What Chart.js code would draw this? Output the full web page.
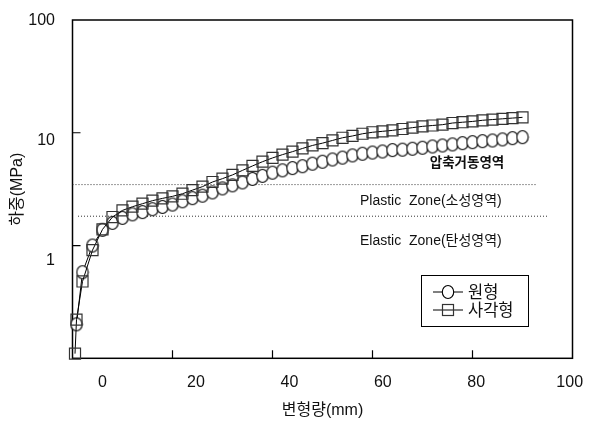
<!DOCTYPE html>
<html><head><meta charset="utf-8">
<script src="https://cdn.jsdelivr.net/npm/chart.js@4.4.0/dist/chart.umd.min.js"></script>
<style>html,body{margin:0;padding:0;background:#fff;}</style>
</head><body>
<canvas id="c" width="590" height="431"></canvas>
<script>
// ---- data ----
const circleLabel = '원형';
const squareLabel = '사각형';
const circleX = [0.8,2,4,6,8,10,12,14,16,18,20,22,24,26,28,30,32,34,36,38,40,42,44,46,48,50,52,54,56,58,60,62,64,66,68,70,72,74,76,78,80,82,84,86,88,90];
const circleY = [0.20,0.58,1.0,1.38,1.59,1.76,1.89,1.98,2.10,2.20,2.31,2.47,2.63,2.77,2.96,3.21,3.42,3.63,3.90,4.15,4.43,4.64,4.86,5.05,5.32,5.54,5.80,6.02,6.30,6.52,6.68,6.83,7.02,7.08,7.22,7.37,7.56,7.72,7.88,8.09,8.26,8.43,8.55,8.73,8.96,9.14];
const squareX = [0.5,0.8,2,4,6,8,10,12,14,16,18,20,22,24,26,28,30,32,34,36,38,40,42,44,46,48,50,52,54,56,58,60,62,64,66,68,70,72,74,76,78,80,82,84,86,88,90];
const squareY = [0.11,0.22,0.48,0.91,1.39,1.79,2.05,2.21,2.35,2.50,2.62,2.73,2.88,3.10,3.33,3.66,3.92,4.23,4.64,5.08,5.54,5.98,6.40,6.80,7.26,7.72,8.09,8.55,9.03,9.37,9.80,10.1,10.3,10.5,10.8,11.1,11.4,11.6,11.8,12.2,12.4,12.6,12.9,13.1,13.3,13.5,13.7];
// zone boundary lines
const upperLineX = [0, 92.8];
const upperLineY = [3.47, 3.47];
const lowerLineX = [1.1, 95];
const lowerLineY = [1.82, 1.82];
// tick labels / marks
const xTickLabels = [0,20,40,60,80,100];
const yTickLabels = [1,10,100];
const xTickMarks = [20,40,60,80];
const yTickMarks = [1,10];
// annotations: [text, x, y, align, bold]
const zoneTexts = [
  ['압축거동영역', 78.9, 5.35, 'center', true],
  ['Plastic  Zone(소성영역)', 57.5, 2.47, 'left', false],
  ['Elastic  Zone(탄성영역)', 57.5, 1.09, 'left', false]
];

const FONT = "'Liberation Sans', 'Noto Sans CJK KR', sans-serif";
Chart.defaults.font.family = FONT;
Chart.defaults.color = '#111';

// ellipse marker
function makeEllipse(){
  const c = document.createElement('canvas');
  c.width = 14; c.height = 16;
  const g = c.getContext('2d');
  g.beginPath();
  g.ellipse(7, 8, 5.7, 6.5, 0, 0, Math.PI*2);
  g.fillStyle = '#fff'; g.fill();
  g.lineWidth = 1.1; g.strokeStyle = '#000'; g.stroke();
  return c;
}
const ellipseImg = makeEllipse();

const zip = (xs, ys) => xs.map((x,i)=>({x, y: ys[i]}));

const decor = {
  id: 'decor',
  beforeDatasetsDraw(chart){
    const {ctx, chartArea:a, scales:{x, y}} = chart;
    ctx.save();
    ctx.strokeStyle = '#000';
    ctx.lineWidth = 1.5;
    ctx.strokeRect(a.left, a.top, a.right - a.left, a.bottom - a.top);
    ctx.lineWidth = 1.2;
    ctx.beginPath();
    xTickMarks.forEach(v => { const p = x.getPixelForValue(v); ctx.moveTo(p, a.bottom); ctx.lineTo(p, a.bottom - 8); });
    yTickMarks.forEach(v => { const p = y.getPixelForValue(v); ctx.moveTo(a.left, p); ctx.lineTo(a.left + 8, p); });
    ctx.stroke();
    ctx.restore();
  },
  afterDatasetsDraw(chart){
    const {ctx, scales:{x, y}} = chart;
    ctx.save();
    ctx.fillStyle = '#111';
    ctx.textBaseline = 'middle';
    zoneTexts.forEach(([t, vx, vy, al, b]) => {
      ctx.font = (b ? 'bold 13.5px ' : '14px ') + FONT;
      ctx.textAlign = al;
      ctx.fillText(t, x.getPixelForValue(vx), y.getPixelForValue(vy));
    });
    // legend
    const L = {x: 421, y: 275, w: 107, h: 51};
    ctx.strokeStyle = '#000'; ctx.lineWidth = 1;
    ctx.strokeRect(L.x + 0.5, L.y + 0.5, L.w, L.h);
    const rows = [
      {label: chart.data.datasets[0].label, y: L.y + 17, type: 'circle'},
      {label: chart.data.datasets[1].label, y: L.y + 35, type: 'square'}
    ];
    rows.forEach(r => {
      ctx.beginPath(); ctx.moveTo(L.x + 12, r.y); ctx.lineTo(L.x + 42, r.y);
      ctx.strokeStyle = '#000'; ctx.lineWidth = 1; ctx.stroke();
      if (r.type === 'circle') {
        ctx.drawImage(ellipseImg, L.x + 27 - 7, r.y - 8);
      } else {
        ctx.strokeStyle = '#333'; ctx.lineWidth = 1.2;
        ctx.strokeRect(L.x + 21.5, r.y - 5.5, 11, 11);
      }
      ctx.font = '16.5px ' + FONT;
      ctx.textAlign = 'left';
      ctx.fillStyle = '#111';
      ctx.fillText(r.label, L.x + 47, r.y + 1);
    });
    ctx.restore();
  }
};

const noPad = s => { s.paddingLeft = 0; s.paddingRight = 0; s.paddingTop = 0; s.paddingBottom = 0; };

new Chart(document.getElementById('c'), {
  type: 'line',
  data: {
    datasets: [
      {
        label: circleLabel, data: zip(circleX, circleY), order: 2,
        borderColor: '#000', borderWidth: 1, pointStyle: ellipseImg,
        pointRadius: 6, clip: false, tension: 0
      },
      {
        label: squareLabel, data: zip(squareX, squareY), order: 1,
        borderColor: '#000', borderWidth: 1, pointStyle: 'rect',
        pointRadius: 7.8, pointBorderColor: '#333', pointBorderWidth: 1.2,
        pointBackgroundColor: 'rgba(0,0,0,0)', clip: false, tension: 0
      },
      {
        label: 'upper', data: zip(upperLineX, upperLineY), order: 3,
        borderColor: '#333', borderWidth: 1, borderDash: [1, 2], pointRadius: 0
      },
      {
        label: 'lower', data: zip(lowerLineX, lowerLineY), order: 3,
        borderColor: '#333', borderWidth: 1, borderDash: [1, 2], pointRadius: 0
      }
    ]
  },
  options: {
    responsive: false,
    animation: false,
    devicePixelRatio: 1,
    layout: {padding: {top: 20, right: 17.5, left: 0, bottom: 0}},
    plugins: {legend: {display: false}, tooltip: {enabled: false}},
    scales: {
      x: {type: 'linear', min: 0, max: 100, display: false},
      y: {type: 'logarithmic', min: 0.1, max: 100, display: false},
      x2: {
        type: 'linear', position: 'bottom', min: -6.42, max: 100.6, weight: 1,
        grid: {display: false, drawTicks: false}, border: {display: false},
        afterBuildTicks: s => { s.ticks = xTickLabels.map(v => ({value: v})); },
        ticks: {font: {size: 16}, color: '#111', padding: 15, maxRotation: 0, autoSkip: false, callback: v => String(v)},
        title: {display: true, text: '변형량(mm)', font: {size: 16}, color: '#111', padding: {top: 0, bottom: 11}},
        afterFit: s => { s.height = 72.7; noPad(s); }
      },
      y2: {
        type: 'logarithmic', position: 'left', min: 0.1543, max: 100.96, weight: 1,
        grid: {display: false, drawTicks: false}, border: {display: false},
        afterBuildTicks: s => { s.ticks = yTickLabels.map(v => ({value: v})); },
        ticks: {font: {size: 16}, color: '#111', padding: 17.5, autoSkip: false, callback: v => String(v)},
        title: {display: true, text: '하중(MPa)', font: {size: 16}, color: '#111', padding: {top: 8, bottom: 0}},
        afterFit: s => { s.width = 72.5; noPad(s); }
      }
    }
  },
  plugins: [decor]
});
</script>
</body></html>
